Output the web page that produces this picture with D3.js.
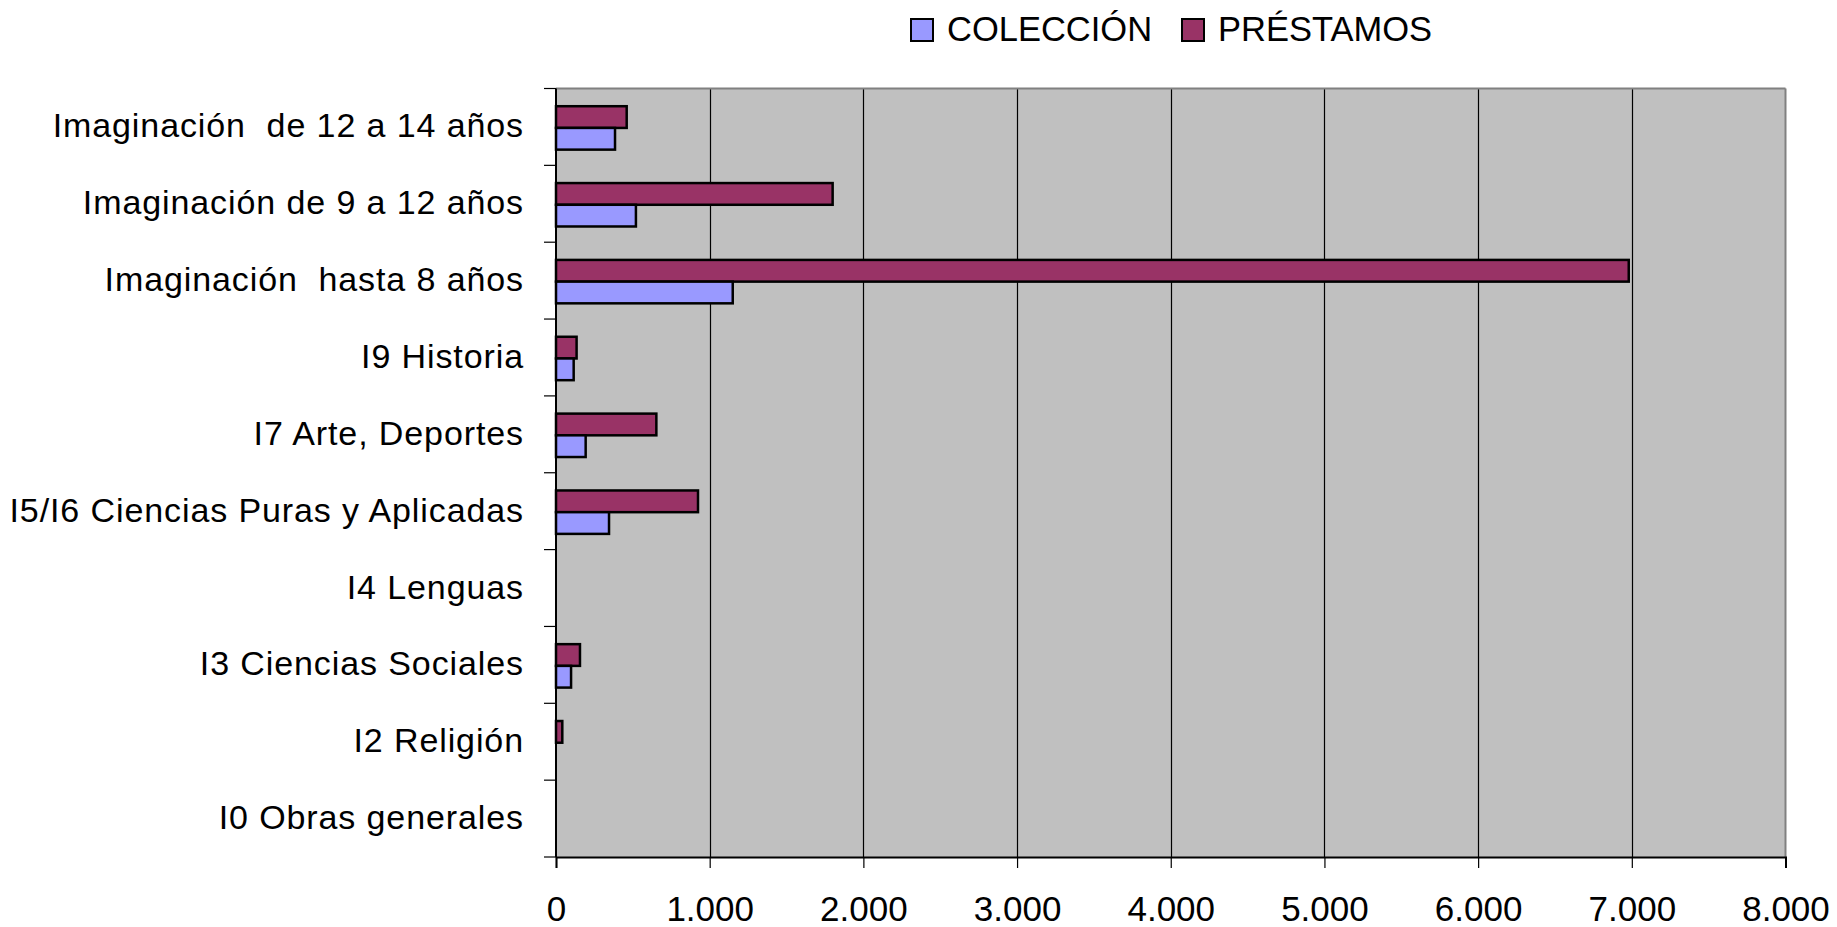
<!DOCTYPE html>
<html>
<head>
<meta charset="utf-8">
<script src="https://cdn.jsdelivr.net/npm/d3@7"></script>
<style>
  html, body { margin: 0; padding: 0; background: #fff; }
  svg { display: block; }
  text { font-family: "Liberation Sans", Arial, sans-serif; fill: #000; white-space: pre; }
</style>
</head>
<body>
<svg id="chart" width="1837" height="927"></svg>
<script>
// ---- Data (top category first, as drawn top to bottom) ----
const categories = [
  "Imaginación  de 12 a 14 años",
  "Imaginación de 9 a 12 años",
  "Imaginación  hasta 8 años",
  "I9 Historia",
  "I7 Arte, Deportes",
  "I5/I6 Ciencias Puras y Aplicadas",
  "I4 Lenguas",
  "I3 Ciencias Sociales",
  "I2 Religión",
  "I0 Obras generales"
];
const seriesNames = ["PRÉSTAMOS", "COLECCIÓN"];
const prestamos = [460, 1800, 6980, 134, 653, 924, 0, 156, 41, 0];
const coleccion = [384, 520, 1150, 115, 193, 345, 0, 98, 0, 0];
const xTicks = [0, 1000, 2000, 3000, 4000, 5000, 6000, 7000, 8000];
const tickLabels = ["0", "1.000", "2.000", "3.000", "4.000", "5.000", "6.000", "7.000", "8.000"];
const legendNames = ["COLECCIÓN", "PRÉSTAMOS"];
const colors = { "COLECCIÓN": "#9999FF", "PRÉSTAMOS": "#993366" };

// ---- Layout ----
const svg = d3.select("#chart");
const plot = { left: 556, right: 1785.5, top: 88.5, bottom: 857 };

const x = d3.scaleLinear().domain([0, 8000]).range([plot.left, plot.right]);
const y = d3.scaleBand().domain(categories).range([plot.top, plot.bottom]).padding(0);
const ySub = d3.scaleBand().domain(seriesNames).range([0, y.bandwidth()])
  .paddingInner(0).paddingOuter(0.77);

// plot background
svg.append("rect")
  .attr("x", plot.left).attr("y", plot.top)
  .attr("width", plot.right - plot.left).attr("height", plot.bottom - plot.top)
  .attr("fill", "#C0C0C0");

// gridlines
svg.append("g").selectAll("line")
  .data(xTicks.filter(t => t > 0 && t < 8000))
  .join("line")
  .attr("x1", d => Math.round(x(d)) + 0.5).attr("x2", d => Math.round(x(d)) + 0.5)
  .attr("y1", plot.top).attr("y2", plot.bottom)
  .attr("stroke", "#000").attr("stroke-width", 1.2);

// top and right borders (gray)
svg.append("line").attr("x1", plot.left).attr("x2", plot.right)
  .attr("y1", plot.top).attr("y2", plot.top)
  .attr("stroke", "#808080").attr("stroke-width", 2);
svg.append("line").attr("x1", plot.right).attr("x2", plot.right)
  .attr("y1", plot.top).attr("y2", plot.bottom)
  .attr("stroke", "#808080").attr("stroke-width", 2);

// bars
const rows = categories.map((c, i) => ({ cat: c, "PRÉSTAMOS": prestamos[i], "COLECCIÓN": coleccion[i] }));
const groups = svg.append("g").selectAll("g")
  .data(rows).join("g")
  .attr("transform", d => `translate(0,${y(d.cat) + 1})`);
groups.selectAll("rect")
  .data(d => seriesNames.map(s => ({ s, v: d[s] })).filter(e => e.v > 0))
  .join("rect")
  .attr("x", x(0))
  .attr("y", d => ySub(d.s))
  .attr("width", d => x(d.v) - x(0))
  .attr("height", ySub.bandwidth())
  .attr("fill", d => colors[d.s])
  .attr("stroke", "#000").attr("stroke-width", 2.5);

// x axis
const xAxis = d3.axisBottom(x).tickValues(xTicks)
  .tickFormat((d, i) => tickLabels[i]).tickSize(11).tickPadding(28);
const gx = svg.append("g").attr("transform", `translate(0,${plot.bottom})`).call(xAxis);
gx.select(".domain").attr("stroke", "#000").attr("stroke-width", 2);
gx.selectAll(".tick line").attr("stroke", "#000").attr("stroke-width", 1.2);
gx.selectAll("text").style("font-size", "35px").attr("fill", "#000")
  .style("font-family", '"Liberation Sans", Arial, sans-serif');

// y axis
const yTickPos = d3.range(categories.length + 1).map(i => plot.top + i * y.step());
const gy = svg.append("g");
gy.append("line").attr("x1", plot.left).attr("x2", plot.left)
  .attr("y1", plot.top).attr("y2", plot.bottom)
  .attr("stroke", "#000").attr("stroke-width", 2);
gy.selectAll("line.t").data(yTickPos).join("line").attr("class", "t")
  .attr("x1", plot.left - 12).attr("x2", plot.left)
  .attr("y1", d => d).attr("y2", d => d)
  .attr("stroke", "#000").attr("stroke-width", 1.2);
gy.selectAll("text").data(categories).join("text")
  .attr("x", 524)
  .attr("y", d => y(d) + y.bandwidth() / 2)
  .attr("dy", "0.31em")
  .attr("text-anchor", "end")
  .style("font-size", "34px").style("letter-spacing", "0.9px")
  .text(d => d);

// legend
const legendX = [911, 1182];
const lg = svg.append("g").selectAll("g").data(legendNames).join("g")
  .attr("transform", (d, i) => `translate(${legendX[i]},19)`);
lg.append("rect").attr("x", 0).attr("y", 0).attr("width", 22).attr("height", 22)
  .attr("fill", d => colors[d]).attr("stroke", "#000").attr("stroke-width", 2);
lg.append("text").attr("x", 36).attr("y", 21.5)
  .style("font-size", "34.5px")
  .text(d => d);
</script>
</body>
</html>
